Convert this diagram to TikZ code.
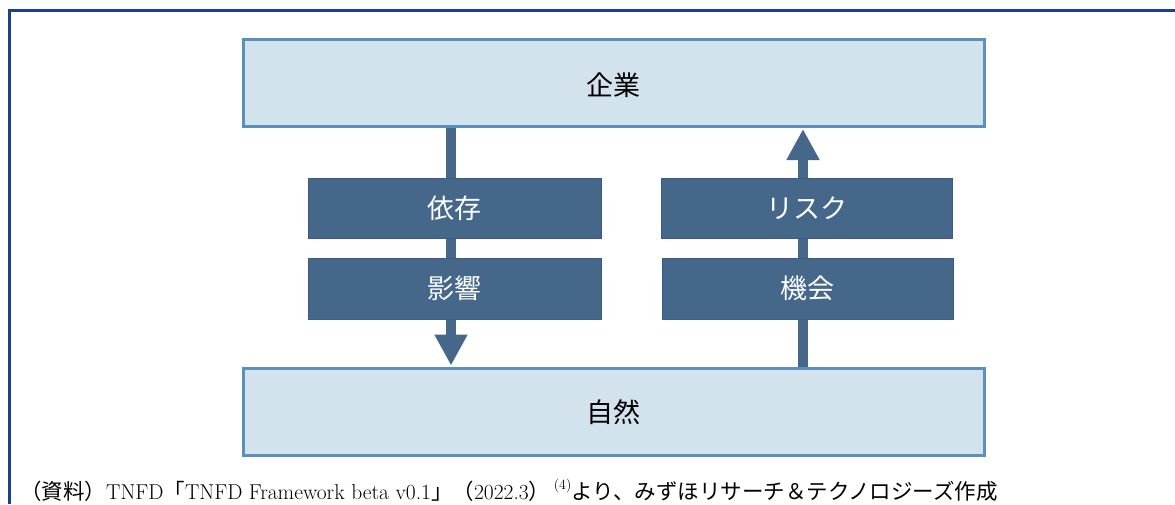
\documentclass[tikz,border=0pt]{standalone}
\usepackage{fontspec}
\usetikzlibrary{arrows.meta}
\newfontfamily\jp{Noto Sans CJK JP}
\definecolor{framec}{HTML}{1E3E8E}
\definecolor{lightfill}{HTML}{D3E3EE}
\definecolor{lightborder}{HTML}{5B8FBC}
\definecolor{darkfill}{HTML}{44678A}
\definecolor{darkborder}{HTML}{3B5A8C}
\tikzset{
  bigbox/.style={draw=lightborder, fill=lightfill, line width=3pt, rectangle, inner sep=0pt, font=\jp\fontsize{27}{30}\selectfont, text=black},
  darkbox/.style={draw=darkborder, fill=darkfill, line width=1pt, rectangle, inner sep=0pt, font=\jp\fontsize{27}{30}\selectfont, text=white},
  flowarrow/.style={draw=darkfill, line width=10pt, -{Triangle[width=31pt,length=31pt,fill=darkfill]}},
}
\begin{document}
\begin{tikzpicture}[x=1pt,y=-1pt]
\useasboundingbox (0,0) rectangle (1175,504);
% frame
\draw[framec, line width=3pt] (9.5,504) -- (9.5,10.5) -- (1175,10.5);
% big boxes
\node[bigbox, minimum width=740.5pt, minimum height=86.5pt, text depth=0pt] (top) at (613.75,82.75) {\raisebox{-2pt}{企業}};
\node[bigbox, minimum width=740.5pt, minimum height=87pt] (bot) at (613.75,412) {\raisebox{-2pt}{自然}};
% arrows
\coordinate (la) at (451,0);
\coordinate (ra) at (803,0);
\draw[flowarrow] (la |- top.south) -- ([yshift=1.5pt]la |- bot.north);
\draw[flowarrow] (ra |- bot.north) -- ([yshift=-1.5pt]ra |- top.south);
% dark boxes
\node[darkbox, minimum width=293pt, minimum height=60pt] (dep) at (454.5,208) {\raisebox{-2pt}{依存}};
\node[darkbox, minimum width=293pt, minimum height=61pt] (imp) at (454.5,288.5) {\raisebox{-2pt}{影響}};
\node[darkbox, minimum width=291pt, minimum height=60pt] (risk) at (806.5,208) {\raisebox{-2pt}{リスク}};
\node[darkbox, minimum width=291pt, minimum height=61pt] (opp) at (807.5,288.5) {\raisebox{-2pt}{機会}};
% caption
\node[anchor=base west, inner sep=0pt, font=\fontsize{21.5}{24}\selectfont] (cap) at (20,499)
  {{\jp （資料）}TNFD{\jp 「}TNFD Framework beta v0.1{\jp 」（}2022.3{\jp ）}\,\raisebox{0.45em}{\fontsize{14}{16}\selectfont(4)}{\jp より、みずほリサーチ＆テクノロジーズ作成}};
\end{tikzpicture}
\end{document}
